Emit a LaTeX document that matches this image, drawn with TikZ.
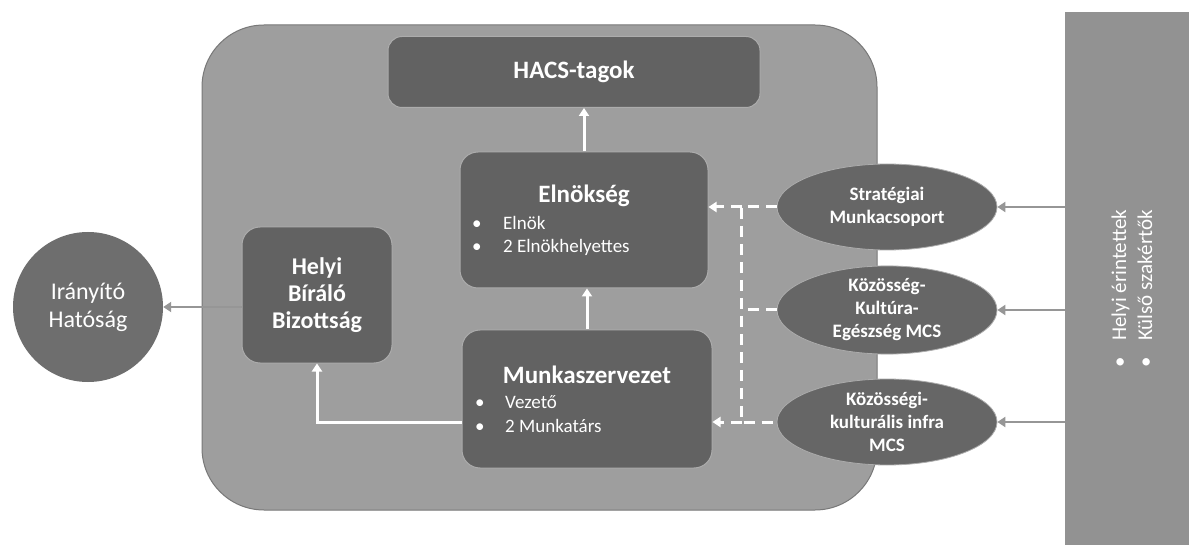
\documentclass[tikz,border=0pt]{standalone}
\usepackage{fontspec}
\setmainfont{Carlito}
\usetikzlibrary{shapes.geometric,arrows.meta}
\definecolor{bgcol}{RGB}{158,158,158}
\definecolor{bgline}{RGB}{120,120,120}
\definecolor{boxcol}{RGB}{98,98,98}
\definecolor{boxline}{RGB}{172,172,172}
\definecolor{ovalcol}{RGB}{102,102,102}
\definecolor{circcol}{RGB}{110,110,110}
\definecolor{sidecol}{RGB}{146,146,146}
\definecolor{arrcol}{RGB}{150,150,150}
\begin{document}
\begin{tikzpicture}[x=1pt,y=-1pt,
    box/.style={draw=boxline,line width=1pt,fill=boxcol,rounded corners=14pt,inner sep=0pt,
      text=white,font=\bfseries\fontsize{25}{27}\selectfont,align=center},
    oval/.style={ellipse,draw=boxline,line width=0.8pt,fill=ovalcol,minimum width=220pt,
      minimum height=86pt,inner sep=0pt,text=white,font=\bfseries\fontsize{19}{23}\selectfont,align=center},
    title/.style={text=white,font=\bfseries\fontsize{25}{27}\selectfont,anchor=base,inner sep=0pt},
    item/.style={text=white,font=\fontsize{19}{22}\selectfont,anchor=base west,inner sep=0pt},
    sidetext/.style={text=white,font=\fontsize{21}{24}\selectfont,anchor=base west,inner sep=0pt,rotate=90},
    wline/.style={white,line width=3pt,-{Triangle[length=8pt,width=10pt]}},
    gline/.style={arrcol,line width=2.5pt,-{Triangle[length=8pt,width=10pt]}},
    dline/.style={white,line width=3pt,dash pattern=on 11pt off 7pt}]
  \useasboundingbox (0,0) rectangle (1189,545);
  \fill[white] (0,0) rectangle (1189,545);

  % grey frame and the side column
  \draw[bgline,line width=1pt,fill=bgcol,rounded corners=62pt] (202,25) rectangle (877,510);
  \node[fill=sidecol,minimum width=124pt,minimum height=533pt,inner sep=0pt,anchor=north west] (panel) at (1065,12) {};

  \node[box,minimum width=372pt,minimum height=71pt] (hacs) at (574,72) {HACS-tagok};
  \node[box,rounded corners=18pt,minimum width=248pt,minimum height=136pt] (elnok) at (584,220) {};
  \node[box,rounded corners=18pt,minimum width=250pt,minimum height=138pt] (munka) at (587,399) {};
  \node[box,rounded corners=18pt,minimum width=150pt,minimum height=136pt,font=\bfseries\fontsize{24}{27}\selectfont] (hbb) at (317,295) {Helyi\\Bíráló\\Bizottság};
  \node[circle,fill=circcol,minimum size=150pt,inner sep=0pt,text=white,align=center,font=\fontsize{24}{28}\selectfont] (ih) at (88,307) {Irányító\\Hatóság};

  \node[title] (elnokT) at (584,203) {Elnökség};
  \node[item] (elnokA) at (472,230) {\makebox[31pt][l]{•}Elnök};
  \node[item] (elnokB) at (472,253) {\makebox[31pt][l]{•}2 Elnökhelyettes};
  \node[title] (munkaT) at (587,383) {Munkaszervezet};
  \node[item] (munkaA) at (475,408) {\makebox[30pt][l]{•}Vezető};
  \node[item] (munkaB) at (475,432) {\makebox[30pt][l]{•}2 Munkatárs};

  \node[oval] (e1) at (887,207) {Stratégiai\\Munkacsoport};
  \node[oval] (e2) at (887,310) {Közösség-\\Kultúra-\\Egészség MCS};
  \node[oval] (e3) at (887,422) {Közösségi-\\kulturális infra\\MCS};

  \node[sidetext] (side1) at (1126,368) {\makebox[27pt][l]{•}Helyi érintettek};
  \node[sidetext] (side2) at (1152,368) {\makebox[27pt][l]{•}Külső szakértők};

  % arrows
  \draw[wline] (elnok.north) -- (elnok.north |- hacs.south);
  \draw[wline] (munka.north) -- (munka.north |- elnok.south);
  \draw[wline] ([yshift=-23pt]munka.west) -| (hbb.south);
  \draw[gline] (ih.east -| hbb.west) -- (ih.east);
  \draw[gline] (e1.east -| panel.west) -- (e1.east);
  \draw[gline] (e2.east -| panel.west) -- (e2.east);
  \draw[gline] (e3.east -| panel.west) -- (e3.east);

  \coordinate (busA) at ([xshift=-35pt]e1.west);
  \coordinate (busC) at ([xshift=-35pt]e3.west);
  \draw[dline] (e1.west) -- (busA) -- (busC) -- (e3.west);
  \draw[dline] (e2.west) -- (e2.west -| busA);
  \draw[dline,-{Triangle[length=8pt,width=10pt]}] (busA) -- (elnok.east |- busA);
  \draw[dline,-{Triangle[length=8pt,width=10pt]}] (busC) -- (munka.east |- busC);
\end{tikzpicture}
\end{document}
